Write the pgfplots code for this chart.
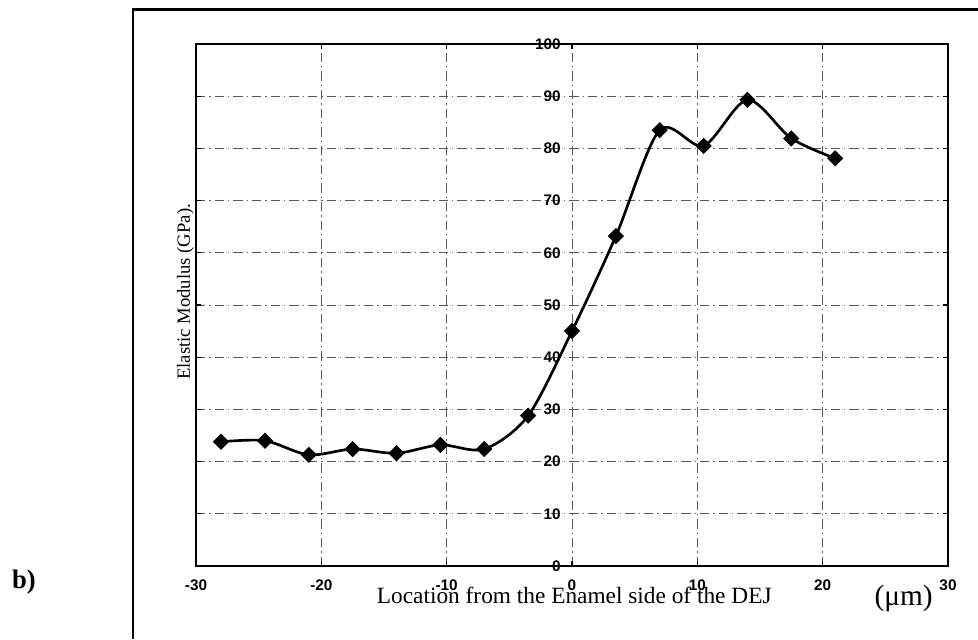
\documentclass[border=0pt]{standalone}
\usepackage{pgfplots}
\pgfplotsset{compat=1.18}
\usepackage{fontspec}
\setmainfont{Liberation Serif}
\newfontfamily\tickfont{Liberation Sans}

\begin{document}
\begin{tikzpicture}
% page = 978 x 639 px at 0.75pt per px
\useasboundingbox (0,0) rectangle (733.5pt,-479.25pt);
% outer frame (left and top edges)
\draw[line width=1.8pt] (99.75pt,-479.25pt) -- (99.75pt,-7pt) -- (733.5pt,-7pt);
\node[anchor=base, font=\bfseries\fontsize{20}{22}\selectfont] at (18pt,-441pt) {b)};

\begin{axis}[
  at={(147pt,-424.5pt)}, anchor=south west,
  scale only axis, width=564pt, height=391.5pt,
  xmin=-30, xmax=30, ymin=0, ymax=100,
  xtick={-30,-20,...,30}, ytick={0,10,...,100},
  axis line style={line width=1.2pt},
  tick align=inside, major tick length=4pt,
  tick style={black, line width=0.8pt},
  grid=major,
  grid style={black!65, line width=0.5pt, dash pattern=on 7pt off 3pt on 1pt off 3pt},
  /pgf/number format/assume math mode=true,
  ticklabel style={font=\tickfont\bfseries\fontsize{11.5}{13}\selectfont},
  xticklabel style={yshift=-7pt},
  yticklabel style={xshift=277pt},
  ylabel={Elastic Modulus (GPa).},
  ylabel style={at={(axis description cs:-0.008,0.525)}, anchor=base,
    font=\fontsize{14}{16}\selectfont},
  xlabel={Location from the Enamel side of the DEJ},
  xlabel style={at={(axis description cs:0.503,-0.0709)}, anchor=base,
    font=\fontsize{17.5}{20}\selectfont},
  clip=false,
]
\addplot[black, line width=2pt, smooth, tension=0.5,
  mark=square*, mark size=3.3pt, mark options={rotate=45, solid}]
  coordinates {
  (-28,23.8) (-24.5,24.0) (-21,21.3) (-17.5,22.4) (-14,21.6) (-10.5,23.2)
  (-7,22.4) (-3.5,28.8) (0,45.0) (3.5,63.2) (7,83.5) (10.5,80.5)
  (14,89.3) (17.5,81.9) (21,78.1)
  };
\node[anchor=base, font=\fontsize{22}{24}\selectfont]
  at (axis description cs:0.941,-0.0747) {(μm)};
\end{axis}
\end{tikzpicture}
\end{document}
